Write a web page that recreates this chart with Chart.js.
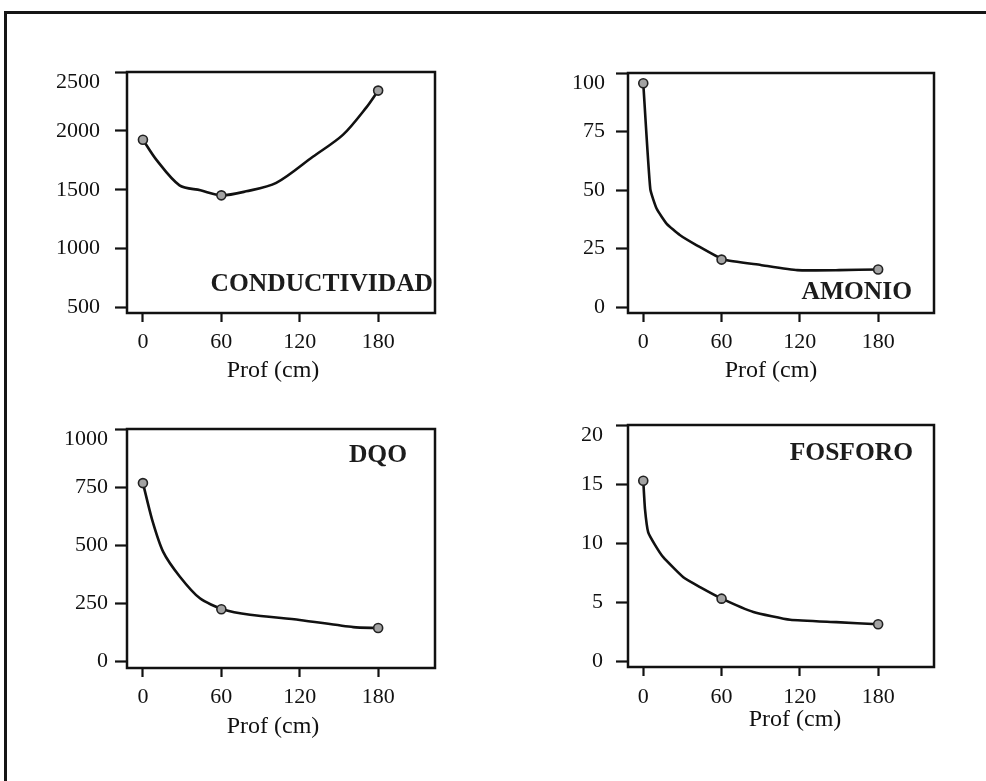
<!DOCTYPE html>
<html>
<head>
<meta charset="utf-8">
<script src="https://cdn.jsdelivr.net/npm/chart.js@4.4.1/dist/chart.umd.min.js"></script>
<style>
  html, body { margin: 0; padding: 0; background: #fff; overflow: hidden; width: 986px; height: 781px; }
  #frame { position: absolute; left: 4px; right: 0; top: 11px; bottom: 0; border-top: 3px solid #151515; border-left: 3px solid #151515; }
  canvas { position: absolute; }
</style>
</head>
<body>
<div id="frame"></div>
<canvas id="c1" width="450" height="340" style="left:20px;top:50px"></canvas>
<canvas id="c2" width="450" height="340" style="left:520px;top:50px"></canvas>
<canvas id="c3" width="450" height="345" style="left:20px;top:400px"></canvas>
<canvas id="c4" width="450" height="345" style="left:520px;top:400px"></canvas>
<script>
// ---------- data ----------
const depthTicks = [0, 60, 120, 180];
const measuredDepth = [0, 60, 180];
const xAxisTitle = 'Prof (cm)';

// CONDUCTIVIDAD
const condMeasured = [1925, 1453, 2342];
const condCurveDepth = [0, 10.5, 28, 44, 60, 79, 102, 130, 153, 171, 180];
const condCurveValue = [1925, 1752, 1538, 1496, 1453, 1487, 1558, 1780, 1966, 2200, 2342];
const condTicks = [500, 1000, 1500, 2000, 2500];

// AMONIO
const amonMeasured = [95.6, 20.3, 16.1];
const amonCurveDepth = [0, 5.4, 10.3, 18, 28, 41, 61.5, 90, 118, 150, 180];
const amonCurveValue = [95.6, 50.4, 42, 35.6, 30.8, 26.4, 20.3, 18, 15.8, 15.8, 16.1];
const amonTicks = [0, 25, 50, 75, 100];

// DQO
const dqoMeasured = [767, 224, 143];
const dqoCurveDepth = [0, 7, 15.5, 28.3, 43.6, 61, 82, 120, 161, 180];
const dqoCurveValue = [767, 610, 471, 364, 271, 224, 200, 178, 147, 143];
const dqoTicks = [0, 250, 500, 750, 1000];

// FOSFORO
const fosMeasured = [15.28, 5.29, 3.12];
const fosCurveDepth = [0, 1.3, 3.8, 9.2, 15.3, 30.7, 43.5, 60.2, 84.4, 112.6, 148, 180];
const fosCurveValue = [15.28, 12.9, 10.9, 9.8, 8.8, 7.1, 6.27, 5.29, 4.16, 3.5, 3.3, 3.12];
const fosTicks = [0, 5, 10, 15, 20];

// ---------- layout / style ----------
const INK = '#111111';
const SERIF = "'Liberation Serif', 'DejaVu Serif', serif";

const panels = [
  { id: 'c1', name: 'CONDUCTIVIDAD', cx: condCurveDepth, cy: condCurveValue, my: condMeasured, ticks: condTicks,
    xMin: -12.2, xMax: 223.5, yMin: 454, yMax: 2500, tension: 0.3,
    padTop: 22, padRight: 35, yWidth: 107, xHeight: 77, yPad: 15, xPad: 7, titleDx: -8, titleDy: 58,
    labelAnchor: 'bottom', labelDx: 2, labelDy: 29 },
  { id: 'c2', name: 'AMONIO', cx: amonCurveDepth, cy: amonCurveValue, my: amonMeasured, ticks: amonTicks,
    xMin: -11.7, xMax: 222.8, yMin: -2.5, yMax: 100, tension: 0.15,
    padTop: 23, padRight: 36, yWidth: 108, xHeight: 77, yPad: 11, xPad: 7, titleDx: -10, titleDy: 58,
    labelAnchor: 'bottom', labelDx: 22, labelDy: 21 },
  { id: 'c3', name: 'DQO', cx: dqoCurveDepth, cy: dqoCurveValue, my: dqoMeasured, ticks: dqoTicks,
    xMin: -12.2, xMax: 223.5, yMin: -29, yMax: 1000, tension: 0.25,
    padTop: 29, padRight: 35, yWidth: 107, xHeight: 77, yPad: 7, xPad: 7, titleDx: -8, titleDy: 59,
    labelAnchor: 'top', labelDx: 28, labelDy: 26 },
  { id: 'c4', name: 'FOSFORO', cx: fosCurveDepth, cy: fosCurveValue, my: fosMeasured, ticks: fosTicks,
    xMin: -11.7, xMax: 222.8, yMin: -0.5, yMax: 20, tension: 0.15,
    padTop: 25, padRight: 36, yWidth: 108, xHeight: 78, yPad: 13, xPad: 8, titleDx: 14, titleDy: 53,
    labelAnchor: 'top', labelDx: 21, labelDy: 28 }
];

const boxAndLabel = {
  id: 'boxAndLabel',
  beforeDatasetsDraw(chart, args, opts) {
    const a = chart.chartArea, ctx = chart.ctx;
    ctx.save();
    ctx.strokeStyle = INK;
    ctx.lineWidth = 2.5;
    ctx.strokeRect(a.left, a.top, a.right - a.left, a.bottom - a.top);
    ctx.restore();
  },
  afterDraw(chart, args, opts) {
    const a = chart.chartArea, ctx = chart.ctx;
    ctx.save();
    // panel name inside the plot box
    ctx.fillStyle = '#1c1c1c';
    ctx.font = "bold 25.5px " + SERIF;
    ctx.textAlign = 'right';
    ctx.textBaseline = 'middle';
    const y = opts.anchor === 'bottom' ? a.bottom - opts.dy : a.top + opts.dy;
    ctx.fillText(opts.text, a.right - opts.dx, y);
    // x-axis title (slightly off-centre in the original)
    ctx.fillStyle = INK;
    ctx.font = "24px " + SERIF;
    ctx.textAlign = 'center';
    ctx.fillText(opts.title, (a.left + a.right) / 2 + opts.titleDx, a.bottom + opts.titleDy);
    ctx.restore();
  }
};

function build(p) {
  const curve = p.cx.map((x, i) => ({ x: x, y: p.cy[i] }));
  const meas = measuredDepth.map((x, i) => ({ x: x, y: p.my[i] }));
  const topTick = p.ticks[p.ticks.length - 1];
  new Chart(document.getElementById(p.id), {
    type: 'line',
    data: {
      datasets: [
        { data: curve, borderColor: INK, borderWidth: 2.6, pointRadius: 0,
          tension: p.tension, fill: false, order: 2 },
        { data: meas, showLine: false, pointRadius: 4.5, pointBackgroundColor: '#a3a3a3',
          pointBorderColor: '#222', pointBorderWidth: 1.6, order: 1 }
      ]
    },
    options: {
      responsive: false,
      animation: false,
      events: [],
      layout: { padding: { top: p.padTop, right: p.padRight, left: 0, bottom: 0 } },
      plugins: {
        legend: { display: false },
        tooltip: { enabled: false },
        boxAndLabel: { text: p.name, anchor: p.labelAnchor, dx: p.labelDx, dy: p.labelDy,
                       title: xAxisTitle, titleDx: p.titleDx, titleDy: p.titleDy }
      },
      scales: {
        x: {
          type: 'linear', min: p.xMin, max: p.xMax,
          afterBuildTicks: s => { s.ticks = depthTicks.map(v => ({ value: v })); },
          afterFit: s => { s.height = p.xHeight; s.paddingLeft = 0; s.paddingRight = 0; s.paddingTop = 0; s.paddingBottom = 0; },
          border: { display: false },
          grid: { drawOnChartArea: false, drawTicks: true, tickLength: 9, tickWidth: 2.2, tickColor: INK },
          ticks: { color: INK, padding: p.xPad, maxRotation: 0, autoSkip: false,
                   font: { family: SERIF, size: 22, lineHeight: 1.2 } },
          title: { display: false }
        },
        y: {
          type: 'linear', min: p.yMin, max: p.yMax,
          afterBuildTicks: s => { s.ticks = p.ticks.map(v => ({ value: v })); },
          afterFit: s => { s.width = p.yWidth; s.paddingLeft = 0; s.paddingRight = 0; s.paddingTop = 0; s.paddingBottom = 0; },
          border: { display: false },
          grid: { drawOnChartArea: false, drawTicks: true, tickLength: 12, tickWidth: 2.2, tickColor: INK },
          ticks: { color: INK, padding: p.yPad, autoSkip: false,
                   font: { family: SERIF, size: 22, lineHeight: 0.9 },
                   callback: v => (v === topTick ? ['', String(v)] : String(v)) }
        }
      }
    },
    plugins: [boxAndLabel]
  });
}

panels.forEach(build);
</script>
</body>
</html>
